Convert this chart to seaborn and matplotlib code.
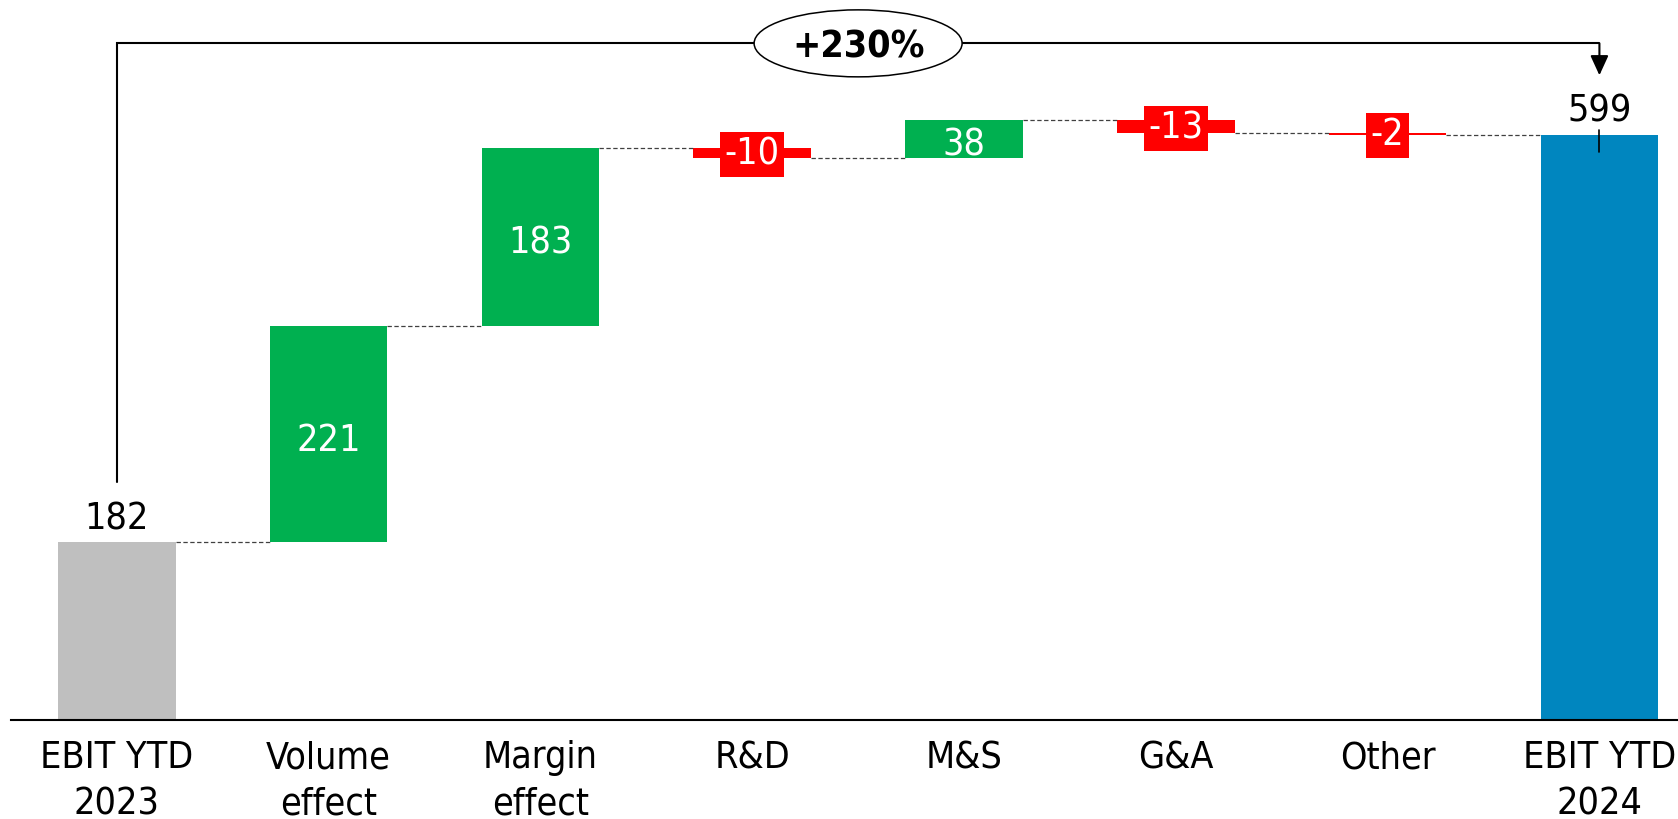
import matplotlib
matplotlib.use("Agg")
import matplotlib.pyplot as plt
from matplotlib import font_manager
from matplotlib.patches import Ellipse
import pandas as pd
import seaborn as sns

# ---- data -------------------------------------------------------------
categories = ["EBIT YTD\n2023", "Volume\neffect", "Margin\neffect", "R&D",
              "M&S", "G&A", "Other", "EBIT YTD\n2024"]
values = [182, 221, 183, -10, 38, -13, -2, 599]
is_total = [True, False, False, False, False, False, False, True]
growth_label = "+230%"

# ---- style ------------------------------------------------------------
START_COLOR = "#BFBFBF"
END_COLOR = "#0086BF"
UP_COLOR = "#00B050"
DOWN_COLOR = "#FF0000"
CONNECTOR_COLOR = "#404040"
FS = 27
BAR_WIDTH = 0.556

sns.set_theme(style="white")
plt.rcParams["font.family"] = ["DejaVu Sans"]
has_condensed = any(f.name == "DejaVu Sans" and f.stretch == "condensed"
                    for f in font_manager.fontManager.ttflist)
if has_condensed:
    plt.rcParams["font.stretch"] = "condensed"

# ---- waterfall geometry -------------------------------------------------
bottoms, heights, levels, colors = [], [], [], []
running = 0
for i, (v, tot) in enumerate(zip(values, is_total)):
    if tot:
        bottoms.append(0)
        heights.append(v)
        running = v
        colors.append(START_COLOR if i == 0 else END_COLOR)
    else:
        bottoms.append(running if v >= 0 else running + v)
        heights.append(abs(v))
        running += v
        colors.append(UP_COLOR if v >= 0 else DOWN_COLOR)
    levels.append(running)

df = pd.DataFrame({"item": categories, "height": heights})
palette = dict(zip(categories, colors))

fig = plt.figure(figsize=(16.78, 8.19), dpi=100)
ax = fig.add_axes([10.9 / 1678, 99 / 819, 1 - 10.9 / 1678, 720 / 819])

sns.barplot(data=df, x="item", y="height", hue="item", order=categories,
            hue_order=categories, palette=palette, width=BAR_WIDTH,
            saturation=1, legend=False, ax=ax, linewidth=0)

# lift each floating bar onto its running total
for patch, b in zip(sorted(ax.patches, key=lambda p: p.get_x()), bottoms):
    patch.set_y(b)
    patch.set_edgecolor("none")

ax.set_xlim(-0.5, 7.371)
ax.set_ylim(0, 737.3)
ax.set_xlabel("")
ax.set_ylabel("")
ax.set_yticks([])
ax.tick_params(axis="x", length=0, pad=14.5, labelsize=FS, colors="black")
for lbl in ax.get_xticklabels():
    lbl.set_linespacing(1.37)
for side in ("left", "top", "right"):
    ax.spines[side].set_visible(False)
ax.spines["bottom"].set_color("black")
ax.spines["bottom"].set_linewidth(1.5)
ax.spines["bottom"].set_zorder(3)

# dashed connectors between consecutive bars
half = BAR_WIDTH / 2
for i in range(len(categories) - 1):
    ax.plot([i + half, i + 1 - half], [levels[i], levels[i]],
            color=CONNECTOR_COLOR, lw=0.9, ls=(0, (3.5, 2)), zorder=1)

# value labels
digit_half = 0.3645 * FS  # half of digit height, points
for i, v in enumerate(values):
    top = bottoms[i] + heights[i]
    mid = bottoms[i] + heights[i] / 2
    if is_total[i]:
        ax.annotate(str(v), xy=(i, top), xytext=(0, 9.4),
                    textcoords="offset points", ha="center", va="baseline",
                    fontsize=FS, color="black", zorder=6)
    elif v >= 0:
        ax.annotate(str(v), xy=(i, mid), xytext=(0, -digit_half - 2),
                    textcoords="offset points", ha="center", va="baseline",
                    fontsize=FS, color="white", zorder=6)
    else:
        ax.annotate(str(v), xy=(i, mid), xytext=(0, -1),
                    textcoords="offset points", ha="center", va="center",
                    fontsize=FS, color="white", zorder=6,
                    bbox=dict(boxstyle="square,pad=0.12", fc=DOWN_COLOR,
                              ec="none"))

# growth bracket from the first total to the last
n_last = len(categories) - 1
y_bracket = 692.9
ax.plot([0, 0, n_last], [243.7, y_bracket, y_bracket], color="black",
        lw=1.5, solid_joinstyle="miter", zorder=4, clip_on=False)
ax.annotate("", xy=(n_last, 660.2), xytext=(n_last, y_bracket),
            arrowprops=dict(arrowstyle="-|>,head_length=1.2,head_width=0.55",
                            color="black", lw=1.5, shrinkA=0, shrinkB=0,
                            mutation_scale=10),
            zorder=4)
ax.plot([n_last, n_last], [604.1, 581.6], color="black", lw=1.2, zorder=4)

ax.add_patch(Ellipse((n_last / 2, y_bracket), width=0.982, height=68.6,
                     fc="white", ec="black", lw=1.1, zorder=5))
ax.annotate(growth_label, xy=(n_last / 2, y_bracket),
            xytext=(0, -0.3645 * 27), textcoords="offset points",
            ha="center", va="baseline", fontsize=27, fontweight="bold",
            color="black", zorder=6)

fig.savefig("out.png", dpi=100, facecolor="white")
